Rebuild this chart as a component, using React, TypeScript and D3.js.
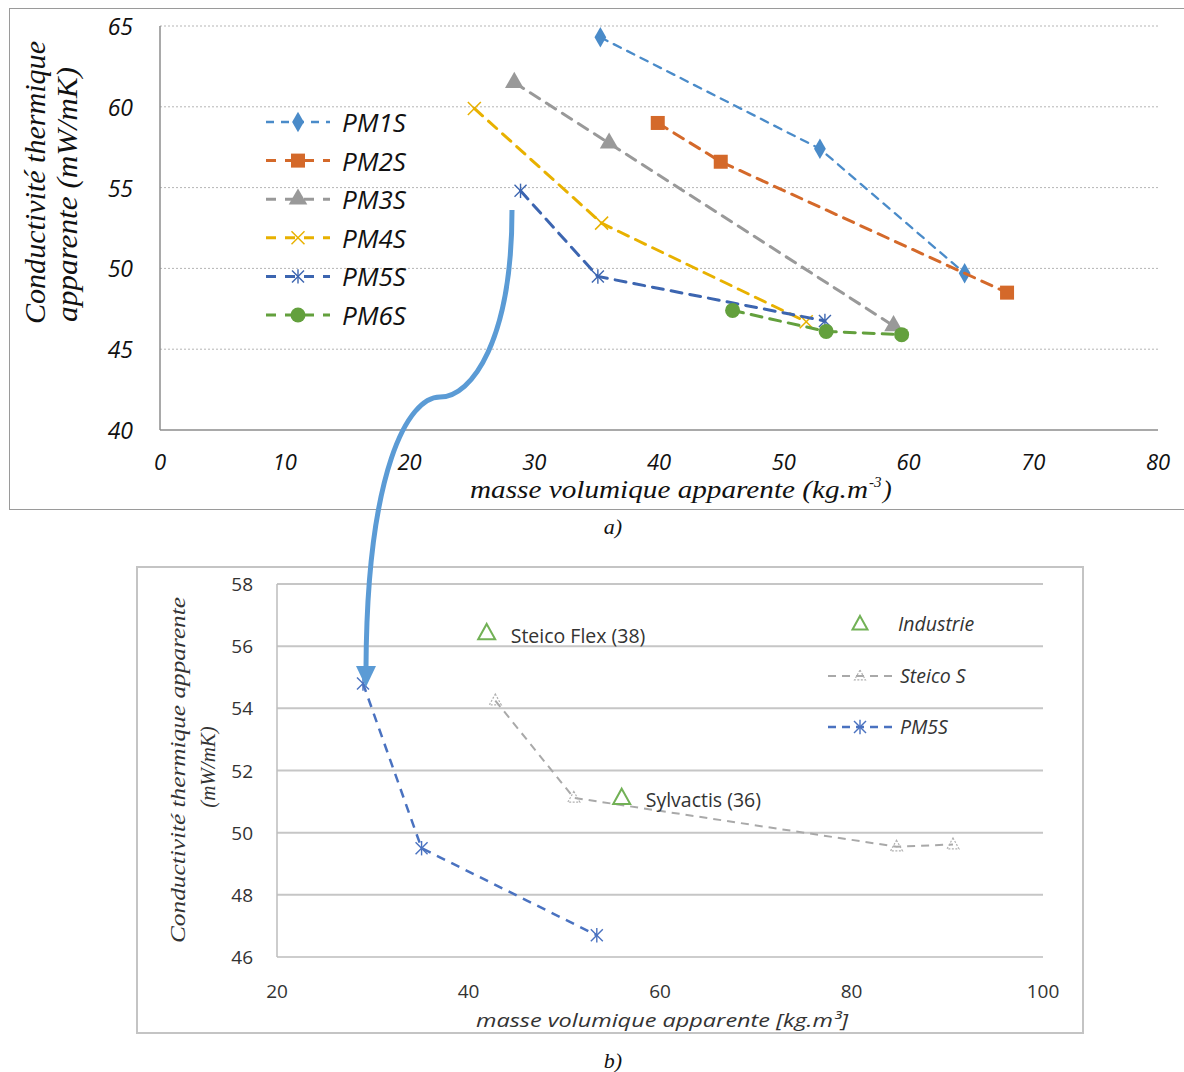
import React from "react";
import * as d3 from "d3";

// ---------- Chart a) data ----------
const topXTicks = [0, 10, 20, 30, 40, 50, 60, 70, 80];
const topYTicks = [40, 45, 50, 55, 60, 65];
const seriesNames = ["PM1S", "PM2S", "PM3S", "PM4S", "PM5S", "PM6S"];
const pm1sX = [35.3, 52.9, 64.5];
const pm1sY = [64.3, 57.4, 49.7];
const pm2sX = [39.9, 44.95, 67.9];
const pm2sY = [59.0, 56.6, 48.5];
const pm3sX = [28.4, 36.0, 58.8];
const pm3sY = [61.5, 57.75, 46.45];
const pm4sX = [25.2, 35.4, 51.8];
const pm4sY = [59.9, 52.8, 46.7];
const pm5sX = [28.9, 35.1, 53.3];
const pm5sY = [54.8, 49.5, 46.75];
const pm6sX = [45.9, 53.4, 59.45];
const pm6sY = [47.4, 46.1, 45.9];

// ---------- Chart b) data ----------
const botXTicks = [20, 40, 60, 80, 100];
const botYTicks = [46, 48, 50, 52, 54, 56, 58];
const steicoSX = [42.8, 51.0, 84.7, 90.6];
const steicoSY = [54.25, 51.12, 49.55, 49.62];
const pm5sBX = [28.98, 35.1, 53.4];
const pm5sBY = [54.8, 49.5, 46.7];
const industrieNames = ["Steico Flex (38)", "Sylvactis (36)"];
const industrieX = [41.9, 56.0];
const industrieY = [56.42, 51.12];
const legendB = ["Industrie", "Steico S", "PM5S"];

const zip = (xs: number[], ys: number[]) => xs.map((x, i) => [x, ys[i]] as [number, number]);

const topSeries = [
  { name: seriesNames[0], pts: zip(pm1sX, pm1sY), color: "#4a8bc9", marker: "diamond", dash: "8,7", w: 2.3 },
  { name: seriesNames[1], pts: zip(pm2sX, pm2sY), color: "#d4692a", marker: "square", dash: "11,8", w: 3 },
  { name: seriesNames[2], pts: zip(pm3sX, pm3sY), color: "#999999", marker: "triangle", dash: "11,8", w: 3 },
  { name: seriesNames[3], pts: zip(pm4sX, pm4sY), color: "#e8b100", marker: "x", dash: "11,8", w: 3 },
  { name: seriesNames[4], pts: zip(pm5sX, pm5sY), color: "#3c65b0", marker: "asterisk", dash: "11,8", w: 3 },
  { name: seriesNames[5], pts: zip(pm6sX, pm6sY), color: "#63a03d", marker: "circle", dash: "11,8", w: 3 },
];

const tx = d3.scaleLinear().domain([0, 80]).range([160, 1158]);
const ty = d3.scaleLinear().domain([40, 65]).range([430, 26]);
const bx = d3.scaleLinear().domain([20, 100]).range([277, 1043]);
const by = d3.scaleLinear().domain([46, 58]).range([957, 584]);

function Marker({ type, x, y, color, s = 1 }: { type: string; x: number; y: number; color: string; s?: number }) {
  if (type === "diamond") {
    return <path d={d3.symbol(d3.symbolDiamond, 120 * s * s)() as string} transform={`translate(${x},${y})`} fill={color} />;
  }
  if (type === "square") {
    return <rect x={x - 7 * s} y={y - 7 * s} width={14 * s} height={14 * s} fill={color} />;
  }
  if (type === "triangle") {
    return <path d={d3.symbol(d3.symbolTriangle, 150 * s * s)() as string} transform={`translate(${x},${y})`} fill={color} />;
  }
  if (type === "circle") {
    return <circle cx={x} cy={y} r={7.5 * s} fill={color} />;
  }
  if (type === "x") {
    const r = 6.5 * s;
    return (
      <g stroke={color} strokeWidth={1.5}>
        <line x1={x - r} y1={y - r} x2={x + r} y2={y + r} />
        <line x1={x - r} y1={y + r} x2={x + r} y2={y - r} />
      </g>
    );
  }
  if (type === "asterisk") {
    const r = 6 * s;
    return (
      <g stroke={color} strokeWidth={1.4}>
        <line x1={x - r} y1={y - r} x2={x + r} y2={y + r} />
        <line x1={x - r} y1={y + r} x2={x + r} y2={y - r} />
        <line x1={x} y1={y - r * 1.2} x2={x} y2={y + r * 1.2} />
      </g>
    );
  }
  return null;
}

function OpenTriangle({ x, y, color, size, w, dash }: { x: number; y: number; color: string; size: number; w: number; dash?: string }) {
  const h = size * 0.9;
  const d = `M${x},${y - h * 0.6} L${x + size / 2},${y + h * 0.4} L${x - size / 2},${y + h * 0.4} Z`;
  return <path d={d} fill="none" stroke={color} strokeWidth={w} strokeDasharray={dash} />;
}

export default function App() {
  const lineTop = d3.line<[number, number]>().x((d) => tx(d[0])).y((d) => ty(d[1]));
  const lineBot = d3.line<[number, number]>().x((d) => bx(d[0])).y((d) => by(d[1]));
  const sansI = "'Open Sans', 'Noto Sans', sans-serif";
  const serif = "'Liberation Serif', 'DejaVu Serif', serif";

  return (
    <svg width={1184} height={1072} style={{ position: "absolute", left: 0, top: 0, background: "#fff" }}>
      {/* ===== Chart a) ===== */}
      <rect x={9.5} y={8.5} width={1200} height={501} fill="none" stroke="#9a9a9a" strokeWidth={1} />
      {topYTicks.filter((v) => v > 40).map((v) => (
        <line key={v} x1={tx(0)} x2={tx(80)} y1={ty(v)} y2={ty(v)} stroke="#b5b5b5" strokeWidth={1} strokeDasharray="2,2" />
      ))}
      <line x1={tx(0)} x2={tx(0)} y1={ty(65)} y2={ty(40)} stroke="#8c8c8c" strokeWidth={1.5} />
      <line x1={tx(0)} x2={tx(80)} y1={ty(40)} y2={ty(40)} stroke="#8c8c8c" strokeWidth={1.5} />
      {topYTicks.map((v) => (
        <text key={v} x={133} y={ty(v)} textAnchor="end" dominantBaseline="central" fontFamily={sansI} fontStyle="italic" fontSize={23} fill="#111">
          {v}
        </text>
      ))}
      {topXTicks.map((v) => (
        <text key={v} x={tx(v)} y={461} textAnchor="middle" dominantBaseline="central" fontFamily={sansI} fontStyle="italic" fontSize={22} fill="#111">
          {v}
        </text>
      ))}
      <text transform="translate(45,324) rotate(-90)" fontFamily={serif} fontStyle="italic" fontSize={29} textLength={283} lengthAdjust="spacingAndGlyphs" fill="#111">
        Conductivité thermique
      </text>
      <text transform="translate(77,322) rotate(-90)" fontFamily={serif} fontStyle="italic" fontSize={29} textLength={255} lengthAdjust="spacingAndGlyphs" fill="#111">
        apparente (mW/mK)
      </text>
      <text x={470} y={498} fontFamily={serif} fontStyle="italic" fontSize={26} textLength={398} lengthAdjust="spacingAndGlyphs" fill="#111">
        masse volumique apparente (kg.m
      </text>
      <text x={869} y={487} fontFamily={serif} fontStyle="italic" fontSize={15} fill="#111">-3</text>
      <text x={883} y={498} fontFamily={serif} fontStyle="italic" fontSize={26} fill="#111">)</text>
      <text x={613} y={534} textAnchor="middle" fontFamily={serif} fontStyle="italic" fontSize={22} fill="#111">
        a)
      </text>

      {topSeries.map((s) => (
        <g key={s.name}>
          <path d={lineTop(s.pts) as string} fill="none" stroke={s.color} strokeWidth={s.w} strokeDasharray={s.dash} strokeLinecap="round" />
          {s.pts.map((p, i) => (
            <Marker key={i} type={s.marker} x={tx(p[0])} y={ty(p[1])} color={s.color} />
          ))}
        </g>
      ))}

      {/* legend a) */}
      {topSeries.map((s, i) => {
        const y = 122 + i * 38.6;
        return (
          <g key={s.name}>
            <line x1={266} x2={330} y1={y} y2={y} stroke={s.color} strokeWidth={s.w} strokeDasharray={i === 0 ? "8,7" : "10,9"} />
            <Marker type={s.marker} x={298} y={y} color={s.color} />
            <text x={342} y={y} dominantBaseline="central" fontFamily={sansI} fontStyle="italic" fontSize={26} fill="#111">
              {s.name}
            </text>
          </g>
        );
      })}

      {/* ===== Chart b) ===== */}
      <rect x={137} y={567} width={946} height={466} fill="none" stroke="#c4c4c4" strokeWidth={2} />
      {botYTicks.filter((v) => v > 46).map((v) => (
        <line key={v} x1={bx(20)} x2={bx(100)} y1={by(v)} y2={by(v)} stroke="#c6c6c6" strokeWidth={2} />
      ))}
      <line x1={bx(20)} x2={bx(20)} y1={by(58)} y2={by(46)} stroke="#bdbdbd" strokeWidth={1.5} />
      <line x1={bx(20)} x2={bx(100)} y1={by(46)} y2={by(46)} stroke="#bdbdbd" strokeWidth={1.5} />
      {botYTicks.map((v) => (
        <text key={v} x={253} y={by(v)} textAnchor="end" dominantBaseline="central" fontFamily={sansI} fontSize={19} fill="#333">
          {v}
        </text>
      ))}
      {botXTicks.map((v) => (
        <text key={v} x={bx(v)} y={991} textAnchor="middle" dominantBaseline="central" fontFamily={sansI} fontSize={19} fill="#333">
          {v}
        </text>
      ))}
      <text transform="translate(185,770) rotate(-90)" textAnchor="middle" fontFamily={serif} fontStyle="italic" fontSize={21} textLength={346} lengthAdjust="spacingAndGlyphs" fill="#333">
        Conductivité thermique apparente
      </text>
      <text transform="translate(215,767) rotate(-90)" textAnchor="middle" fontFamily={serif} fontStyle="italic" fontSize={21} fill="#333">
        (mW/mK)
      </text>
      <text x={476} y={1027} fontFamily={sansI} fontStyle="italic" fontSize={19} textLength={372} lengthAdjust="spacingAndGlyphs" fill="#333">
        masse volumique apparente [kg.m³]
      </text>
      <text x={613} y={1068} textAnchor="middle" fontFamily={serif} fontStyle="italic" fontSize={22} fill="#111">
        b)
      </text>

      {/* Steico S */}
      <path d={lineBot(zip(steicoSX, steicoSY)) as string} fill="none" stroke="#a9a9a9" strokeWidth={2} strokeDasharray="8,6" />
      {zip(steicoSX, steicoSY).map((p, i) => (
        <OpenTriangle key={i} x={bx(p[0])} y={by(p[1])} color="#b0b0b0" size={12} w={1.2} dash="2,1.5" />
      ))}
      {/* PM5S */}
      <path d={lineBot(zip(pm5sBX, pm5sBY)) as string} fill="none" stroke="#4a72c0" strokeWidth={2.5} strokeDasharray="9,7" />
      {zip(pm5sBX, pm5sBY).map((p, i) => (
        <Marker key={i} type="asterisk" x={bx(p[0])} y={by(p[1])} color="#4a72c0" s={1} />
      ))}
      {/* Industrie */}
      {industrieNames.map((n, i) => (
        <g key={n}>
          <OpenTriangle x={bx(industrieX[i])} y={by(industrieY[i])} color="#72b156" size={17} w={2} />
          <text x={bx(industrieX[i]) + 24} y={by(industrieY[i]) + 2} dominantBaseline="central" fontFamily={sansI} fontSize={19.5} fill="#333">
            {n}
          </text>
        </g>
      ))}

      {/* legend b) */}
      <OpenTriangle x={860} y={624} color="#72b156" size={15} w={2} />
      <text x={898} y={623} dominantBaseline="central" fontFamily={sansI} fontStyle="italic" fontSize={19.5} fill="#333">
        {legendB[0]}
      </text>
      <line x1={828} x2={892} y1={676} y2={676} stroke="#a9a9a9" strokeWidth={2} strokeDasharray="8,6" />
      <OpenTriangle x={860} y={676} color="#b0b0b0" size={11} w={1.2} dash="2,1.5" />
      <text x={900} y={675} dominantBaseline="central" fontFamily={sansI} fontStyle="italic" fontSize={19.5} fill="#333">
        {legendB[1]}
      </text>
      <line x1={828} x2={892} y1={727} y2={727} stroke="#4a72c0" strokeWidth={2.5} strokeDasharray="8,6" />
      <Marker type="asterisk" x={860} y={727} color="#4a72c0" />
      <text x={900} y={726} dominantBaseline="central" fontFamily={sansI} fontStyle="italic" fontSize={19.5} fill="#333">
        {legendB[2]}
      </text>

      {/* connecting arrow */}
      <path d="M512,210 C512,340 472,397 440,397 C408,397 367,470 366,668" fill="none" stroke="#5b9bd5" strokeWidth={5} />
      <path d="M356,666 L376,666 L366,687 Z" fill="#5b9bd5" />
    </svg>
  );
}
